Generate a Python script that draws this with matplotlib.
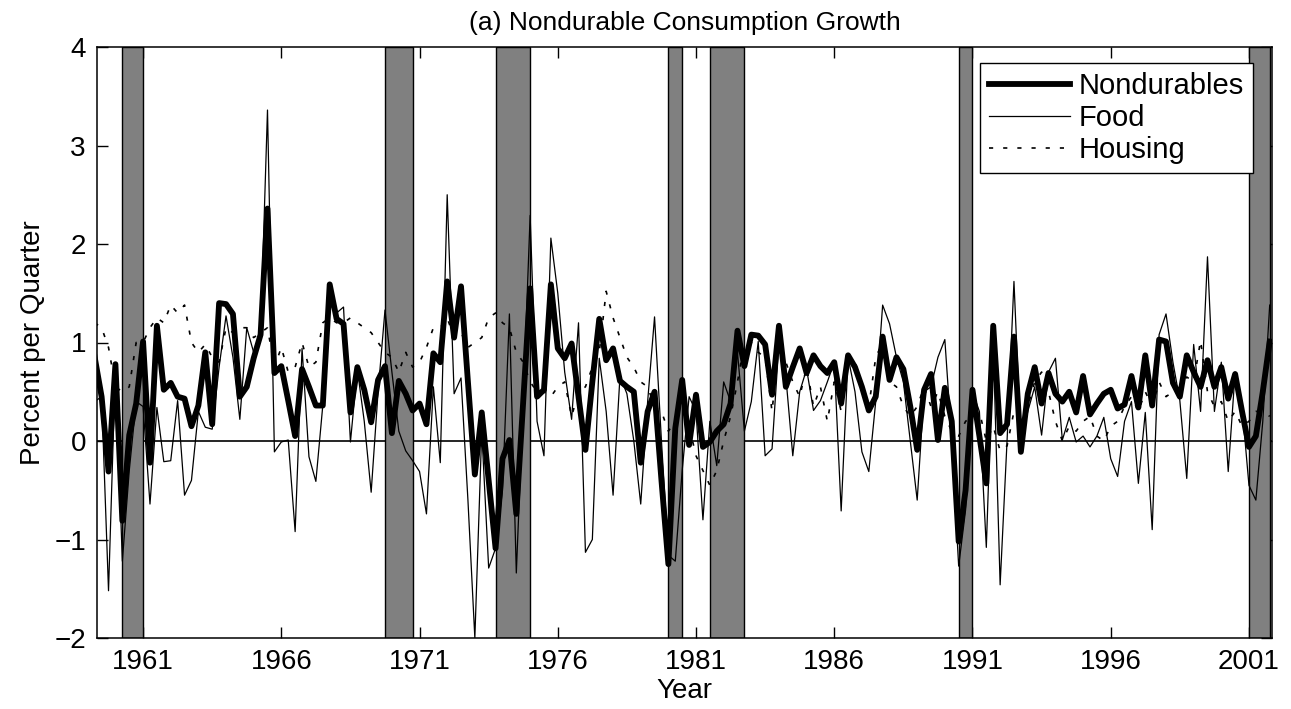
import numpy as np
import matplotlib
matplotlib.use('Agg')
import matplotlib.pyplot as plt

plt.rcParams['font.family'] = ['Liberation Sans Narrow', 'Liberation Sans', 'DejaVu Sans']

# quarterly growth rates, 1959Q2 - 2001Q4 (percent per quarter)
start_year = 1959.25
nondurables = [
    0.85, 0.45, -0.31, 0.78, -0.81, 0.06, 0.38, 1.01, -0.22, 1.17, 0.52, 0.59,
    0.45, 0.43, 0.15, 0.36, 0.90, 0.17, 1.40, 1.39, 1.29, 0.45, 0.55, 0.84,
    1.08, 2.36, 0.69, 0.76, 0.41, 0.05, 0.73, 0.55, 0.36, 0.36, 1.59, 1.24,
    1.19, 0.29, 0.75, 0.52, 0.19, 0.62, 0.76, 0.08, 0.61, 0.48, 0.31, 0.38,
    0.17, 0.89, 0.80, 1.62, 1.05, 1.57, 0.60, -0.34, 0.29, -0.40, -1.09, -0.18,
    0.01, -0.74, 0.40, 1.55, 0.45, 0.52, 1.59, 0.94, 0.84, 0.99, 0.45, -0.09,
    0.60, 1.24, 0.82, 0.94, 0.61, 0.55, 0.50, -0.22, 0.30, 0.50, -0.40, -1.25,
    0.13, 0.62, -0.04, 0.47, -0.06, -0.01, 0.10, 0.17, 0.38, 1.12, 0.76, 1.08,
    1.07, 0.98, 0.47, 1.17, 0.55, 0.75, 0.94, 0.69, 0.87, 0.76, 0.69, 0.80,
    0.38, 0.87, 0.75, 0.55, 0.31, 0.45, 1.06, 0.62, 0.85, 0.73, 0.35, -0.09,
    0.52, 0.68, 0.01, 0.54, 0.20, -1.02, -0.50, 0.52, 0.05, -0.43, 1.17, 0.08,
    0.17, 1.06, -0.11, 0.48, 0.75, 0.38, 0.69, 0.48, 0.40, 0.50, 0.29, 0.66,
    0.27, 0.38, 0.48, 0.52, 0.33, 0.37, 0.66, 0.34, 0.87, 0.36, 1.03, 1.01,
    0.59, 0.45, 0.87, 0.70, 0.55, 0.82, 0.55, 0.75, 0.43, 0.68, 0.30, -0.06,
    0.05, 0.50, 1.01]
food = [
    0.40, 0.45, -1.52, 0.75, -1.22, -0.30, 0.40, 0.35, -0.64, 0.34, -0.21, -0.20,
    0.41, -0.55, -0.40, 0.30, 0.14, 0.12, 0.75, 1.27, 0.85, 0.22, 1.15, 0.90,
    1.10, 3.36, -0.11, -0.01, 0.01, -0.92, 0.94, -0.16, -0.41, 0.36, 1.57, 1.30,
    1.36, -0.01, 0.73, 0.20, -0.52, 0.50, 1.33, 0.70, 0.10, -0.10, -0.20, -0.31,
    -0.74, 0.55, -0.22, 2.50, 0.48, 0.64, -0.60, -2.00, 0.10, -1.29, -1.09, -0.50,
    1.29, -1.34, 0.40, 2.29, 0.20, -0.15, 2.06, 1.50, 0.70, 0.22, 1.20, -1.13,
    -1.00, 0.84, 0.30, -0.55, 0.66, 0.48, 0.00, -0.64, 0.40, 1.26, 0.00, -1.16,
    -1.22, -0.30, 0.45, 0.30, -0.80, 0.20, -0.25, 0.60, 0.40, 0.90, 0.10, 0.40,
    1.01, -0.15, -0.08, 1.00, 0.65, -0.15, 0.50, 0.73, 0.31, 0.41, 0.60, 0.80,
    -0.71, 0.85, 0.50, -0.11, -0.31, 0.40, 1.38, 1.19, 0.85, 0.60, 0.00, -0.60,
    0.50, 0.55, 0.85, 1.03, 0.00, -1.27, -0.70, 0.50, 0.30, -1.08, 1.00, -1.46,
    0.00, 1.62, -0.01, 0.30, 0.55, 0.06, 0.70, 0.84, 0.01, 0.24, -0.01, 0.05,
    -0.06, 0.05, 0.24, -0.18, -0.36, 0.20, 0.40, -0.43, 0.29, -0.90, 1.08, 1.29,
    0.80, 0.41, -0.38, 0.98, 0.30, 1.87, 0.30, 0.80, -0.31, 0.70, 0.35, -0.45,
    -0.60, 0.20, 1.38]
housing = [
    1.20, 1.15, 0.95, 0.55, 0.50, 0.55, 1.00, 1.00, 1.15, 1.25, 1.20, 1.38,
    1.30, 1.38, 1.00, 0.90, 0.98, 0.85, 0.80, 1.15, 1.10, 1.15, 1.15, 1.05,
    1.10, 1.15, 0.75, 0.95, 0.70, 0.75, 1.00, 0.75, 0.80, 1.20, 1.25, 1.20,
    1.20, 1.25, 1.20, 1.15, 1.10, 1.00, 0.90, 0.85, 0.70, 0.90, 0.75, 0.80,
    0.95, 1.15, 1.15, 1.25, 1.05, 1.10, 0.95, 1.00, 1.05, 1.25, 1.30, 1.20,
    1.15, 0.90, 0.80, 0.60, 0.50, 0.50, 0.45, 0.55, 0.60, 0.25, 0.50, 0.55,
    0.75, 0.90, 1.52, 1.25, 1.05, 0.85, 0.75, 0.60, 0.55, 0.35, 0.30, 0.10,
    0.20, 0.45, 0.15, -0.15, -0.30, -0.45, -0.30, 0.00, 0.25, 0.60, 1.00, 1.00,
    0.90, 0.85, 0.30, 1.00, 0.80, 0.60, 0.45, 0.75, 0.35, 0.55, 0.20, 0.60,
    0.30, 0.85, 0.80, 0.55, 0.35, 0.85, 1.00, 0.60, 0.55, 0.35, 0.25, 0.35,
    0.55, 0.35, 0.50, 0.25, 0.10, 0.05, 0.20, 0.25, 0.30, 0.00, 0.15, -0.10,
    -0.05, 0.30, 0.20, 0.35, 0.60, 0.70, 0.50, 0.20, 0.00, 0.15, 0.10, 0.20,
    0.25, 0.05, 0.00, 0.15, 0.20, 0.35, 0.45, 0.30, 0.50, 0.35, 0.60, 0.45,
    0.50, 0.55, 0.65, 0.60, 1.02, 0.50, 0.35, 0.40, 0.20, 0.30, 0.15, 0.20,
    0.30, 0.30, 0.25]

# NBER recessions (peak, trough)
rec_start = [1960.25, 1969.75, 1973.75, 1980.0, 1981.5, 1990.5, 2001.0]
rec_end = [1961.0, 1970.75, 1975.0, 1980.5, 1982.75, 1991.0, 2001.75]

year_ticks = [1961, 1966, 1971, 1976, 1981, 1986, 1991, 1996, 2001]

t = start_year + np.arange(len(nondurables)) / 4.0

fig = plt.figure(figsize=(12.91, 7.09), dpi=100)
ax = fig.add_axes([97/1291, 1-638/709, 1175/1291, 591/709])

ax.axhline(0, color='k', lw=1.2, zorder=1)
for s, e in zip(rec_start, rec_end):
    ax.axvspan(s, e, facecolor='#808080', edgecolor='k', lw=1.0, zorder=2)

ax.plot(t, nondurables, color='k', lw=4.2, label='Nondurables', zorder=3)
ax.plot(t, food, color='k', lw=0.9, label='Food', zorder=4)
ax.plot(t, housing, color='k', lw=1.2, ls=(0, (2.5, 6)), label='Housing', zorder=5)

ax.set_xlim(1959 + 4/12., 2001 + 10/12.)
ax.set_ylim(-2, 4)
ax.set_xticks(year_ticks)
ax.set_xticklabels([str(y) for y in year_ticks])
ax.set_yticks(range(-2, 5))
ax.tick_params(direction='in', top=True, right=True, length=8, width=1,
               labelsize=20, pad=8)
for sp in ax.spines.values():
    sp.set_linewidth(1.1)

ax.set_title('(a) Nondurable Consumption Growth', fontsize=19, pad=12)
ax.set_xlabel('Year', fontsize=20, labelpad=2)
ax.set_ylabel('Percent per Quarter', fontsize=20, labelpad=6)

leg = ax.legend(loc='upper right', bbox_to_anchor=((1253-97)/1175., 1-(63-47)/591.),
                borderaxespad=0, fancybox=False, edgecolor='k', framealpha=1,
                fontsize=21, handlelength=2.8, labelspacing=0.15, handletextpad=0.3,
                borderpad=0.3)
leg.get_frame().set_linewidth(1.0)

fig.savefig('out.png', dpi=100)
